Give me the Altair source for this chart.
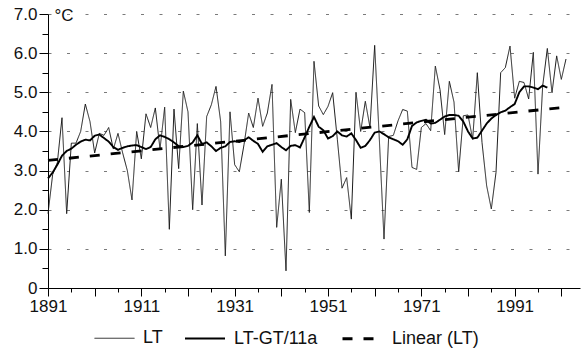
import altair as alt
import pandas as pd

# ---- data ----
start_year = 1891
lt_values = [
    1.9, 2.9, 3.2, 4.35, 1.9, 3.7, 3.7, 4.0, 4.7, 4.25,      # 1891-1900
    3.45, 3.95, 3.9, 4.1, 3.55, 3.95, 3.45, 3.0, 2.25, 4.0,  # 1901-1910
    3.3, 4.45, 4.1, 4.6, 3.55, 4.62, 1.5, 4.57, 3.05, 5.03,  # 1911-1920
    4.5, 2.0, 4.2, 2.12, 4.38, 4.68, 5.15, 4.25, 0.82, 4.5,  # 1921-1930
    3.15, 2.97, 3.66, 4.47, 4.1, 4.85, 4.13, 4.47, 5.2, 1.55,  # 1931-1940
    2.78, 0.44, 4.82, 3.97, 4.57, 4.48, 1.93, 5.79, 4.65, 4.43,  # 1941-1950
    4.64, 4.99, 3.8, 2.55, 2.82, 1.76, 5.0, 4.0, 4.77, 4.1,  # 1951-1960
    6.2, 3.8, 1.25, 3.87, 3.9, 4.27, 4.56, 4.52, 3.08, 3.03,  # 1961-1970
    4.1, 4.2, 4.02, 5.67, 5.07, 3.92, 5.28, 4.75, 2.97, 4.4,  # 1971-1980
    4.42, 3.8, 5.5, 3.72, 2.61, 2.02, 2.95, 5.5, 5.63, 6.18,  # 1981-1990
    4.85, 5.28, 5.25, 4.83, 6.02, 2.91, 5.16, 6.12, 4.99, 5.93,  # 1991-2000
    5.33, 5.85,  # 2001-2002
]
gt11_values = [
    2.8, 2.95, 3.15, 3.38, 3.5, 3.56, 3.66, 3.74, 3.79, 3.77,
    3.89, 3.92, 3.83, 3.74, 3.6, 3.53, 3.58, 3.62, 3.64, 3.65,
    3.6, 3.55, 3.6, 3.8, 3.9, 3.86, 3.8, 3.72, 3.62, 3.6,
    3.63, 3.72, 3.9, 3.68, 3.72, 3.62, 3.5, 3.58, 3.62, 3.73,
    3.75, 3.73, 3.77, 3.85, 3.76, 3.68, 3.48, 3.62, 3.66, 3.7,
    3.6, 3.52, 3.63, 3.65, 3.59, 3.85, 4.12, 4.37, 4.12, 4.03,
    3.82, 3.88, 4.0, 3.9, 3.87, 3.95, 3.78, 3.58, 3.63, 3.78,
    3.97, 4.0, 3.93, 3.85, 3.8, 3.75, 3.66, 3.8, 4.14, 4.23,
    4.27, 4.3, 4.2, 4.22, 4.3, 4.38, 4.42, 4.42, 4.4, 4.25,
    4.0, 3.82, 3.84, 4.02, 4.2, 4.33, 4.42, 4.49, 4.53, 4.62,
    4.7, 5.0, 5.15, 5.15, 5.12, 5.08, 5.17, 5.12,
]
# linear trend of LT as drawn in the reference (end points)
trend_years = [1891, 2002]
trend_values = [3.26, 4.62]

series_names = ["LT", "LT-GT/11a", "Linear (LT)"]
x_tick_values = list(range(1891, 2002, 5))
y_tick_values = [i / 2 for i in range(0, 15)]

lt_years = [start_year + i for i in range(len(lt_values))]
gt_years = [start_year + i for i in range(len(gt11_values))]
df_lt = pd.DataFrame({"year": lt_years, "value": lt_values, "series": series_names[0]})
df_gt = pd.DataFrame({"year": gt_years, "value": gt11_values, "series": series_names[1]})
df_tr = pd.DataFrame({"year": trend_years, "value": trend_values, "series": series_names[2]})

FONT = "Liberation Sans"

legend = alt.Legend(
    title=None, orient="none", legendX=46, legendY=303, direction="horizontal",
    symbolType="stroke", symbolSize=1600, symbolStrokeColor="black",
    labelFont=FONT, labelFontSize=18, labelColor="#111", labelOffset=8,
    columnPadding=18, labelLimit=300,
)

x_enc = alt.X(
    "year:Q",
    scale=alt.Scale(domain=[1891, 2005], nice=False, zero=False),
    axis=alt.Axis(
        values=x_tick_values, format="d",
        labelExpr="(datum.value - 1891) % 20 == 0 ? datum.label : ''",
        title=None, grid=False, domainColor="black", tickColor="black",
        tickSize={"condition": {"test": "(datum.value - 1891) % 10 == 0", "value": 8}, "value": 4},
        labelFont=FONT, labelFontSize=17, labelColor="#111", labelPadding=2,
        labelFlush=False, labelOverlap=False,
    ),
)
y_enc = alt.Y(
    "value:Q",
    scale=alt.Scale(domain=[0, 7], nice=False),
    axis=alt.Axis(
        values=y_tick_values, format=".1f",
        labelExpr="datum.value == 0 ? '0' : (datum.value % 1 == 0 ? datum.label : '')",
        title="°C", titleAngle=0, titleAlign="left", titleBaseline="middle",
        titleX=6, titleY=1, titleFont=FONT, titleFontSize=17, titleFontWeight="normal",
        titleColor="#111",
        grid=True, gridColor="#7a7a7a", gridDash=[3, 15.5], gridWidth=1,
        gridOpacity={"condition": {"test": "datum.value % 1 == 0 && datum.value > 0", "value": 1}, "value": 0},
        domainColor="black", tickColor="black",
        tickSize={"condition": {"test": "datum.value % 1 == 0", "value": 9}, "value": 6},
        labelFont=FONT, labelFontSize=17, labelColor="#111", labelPadding=2,
    ),
)
color_enc = alt.Color("series:N", scale=alt.Scale(domain=series_names, range=["#1a1a1a", "#000000", "#000000"]), legend=legend)
width_enc = alt.StrokeWidth("series:N", scale=alt.Scale(domain=series_names, range=[1.0, 2.8, 2.8]), legend=legend)
dash_enc = alt.StrokeDash("series:N", scale=alt.Scale(domain=series_names, range=[[1, 0], [1, 0], [10, 11]]), legend=legend)

enc = dict(x=x_enc, y=y_enc, color=color_enc, strokeWidth=width_enc, strokeDash=dash_enc)

lt_layer = alt.Chart(df_lt).mark_line(strokeJoin="miter").encode(**enc)
trend_layer = alt.Chart(df_tr).mark_line().encode(**enc)
gt_layer = alt.Chart(df_gt).mark_line().encode(**enc)

chart = (
    alt.layer(lt_layer, trend_layer, gt_layer)
    .properties(
        width=532, height=274,
        autosize=alt.AutoSizeParams(type="none"),
        padding={"left": 48, "top": 14, "right": 2, "bottom": 65},
        background="white",
    )
    .configure_view(stroke=None)
)

chart.save("out.html", embed_options={"renderer": "svg", "actions": False})
